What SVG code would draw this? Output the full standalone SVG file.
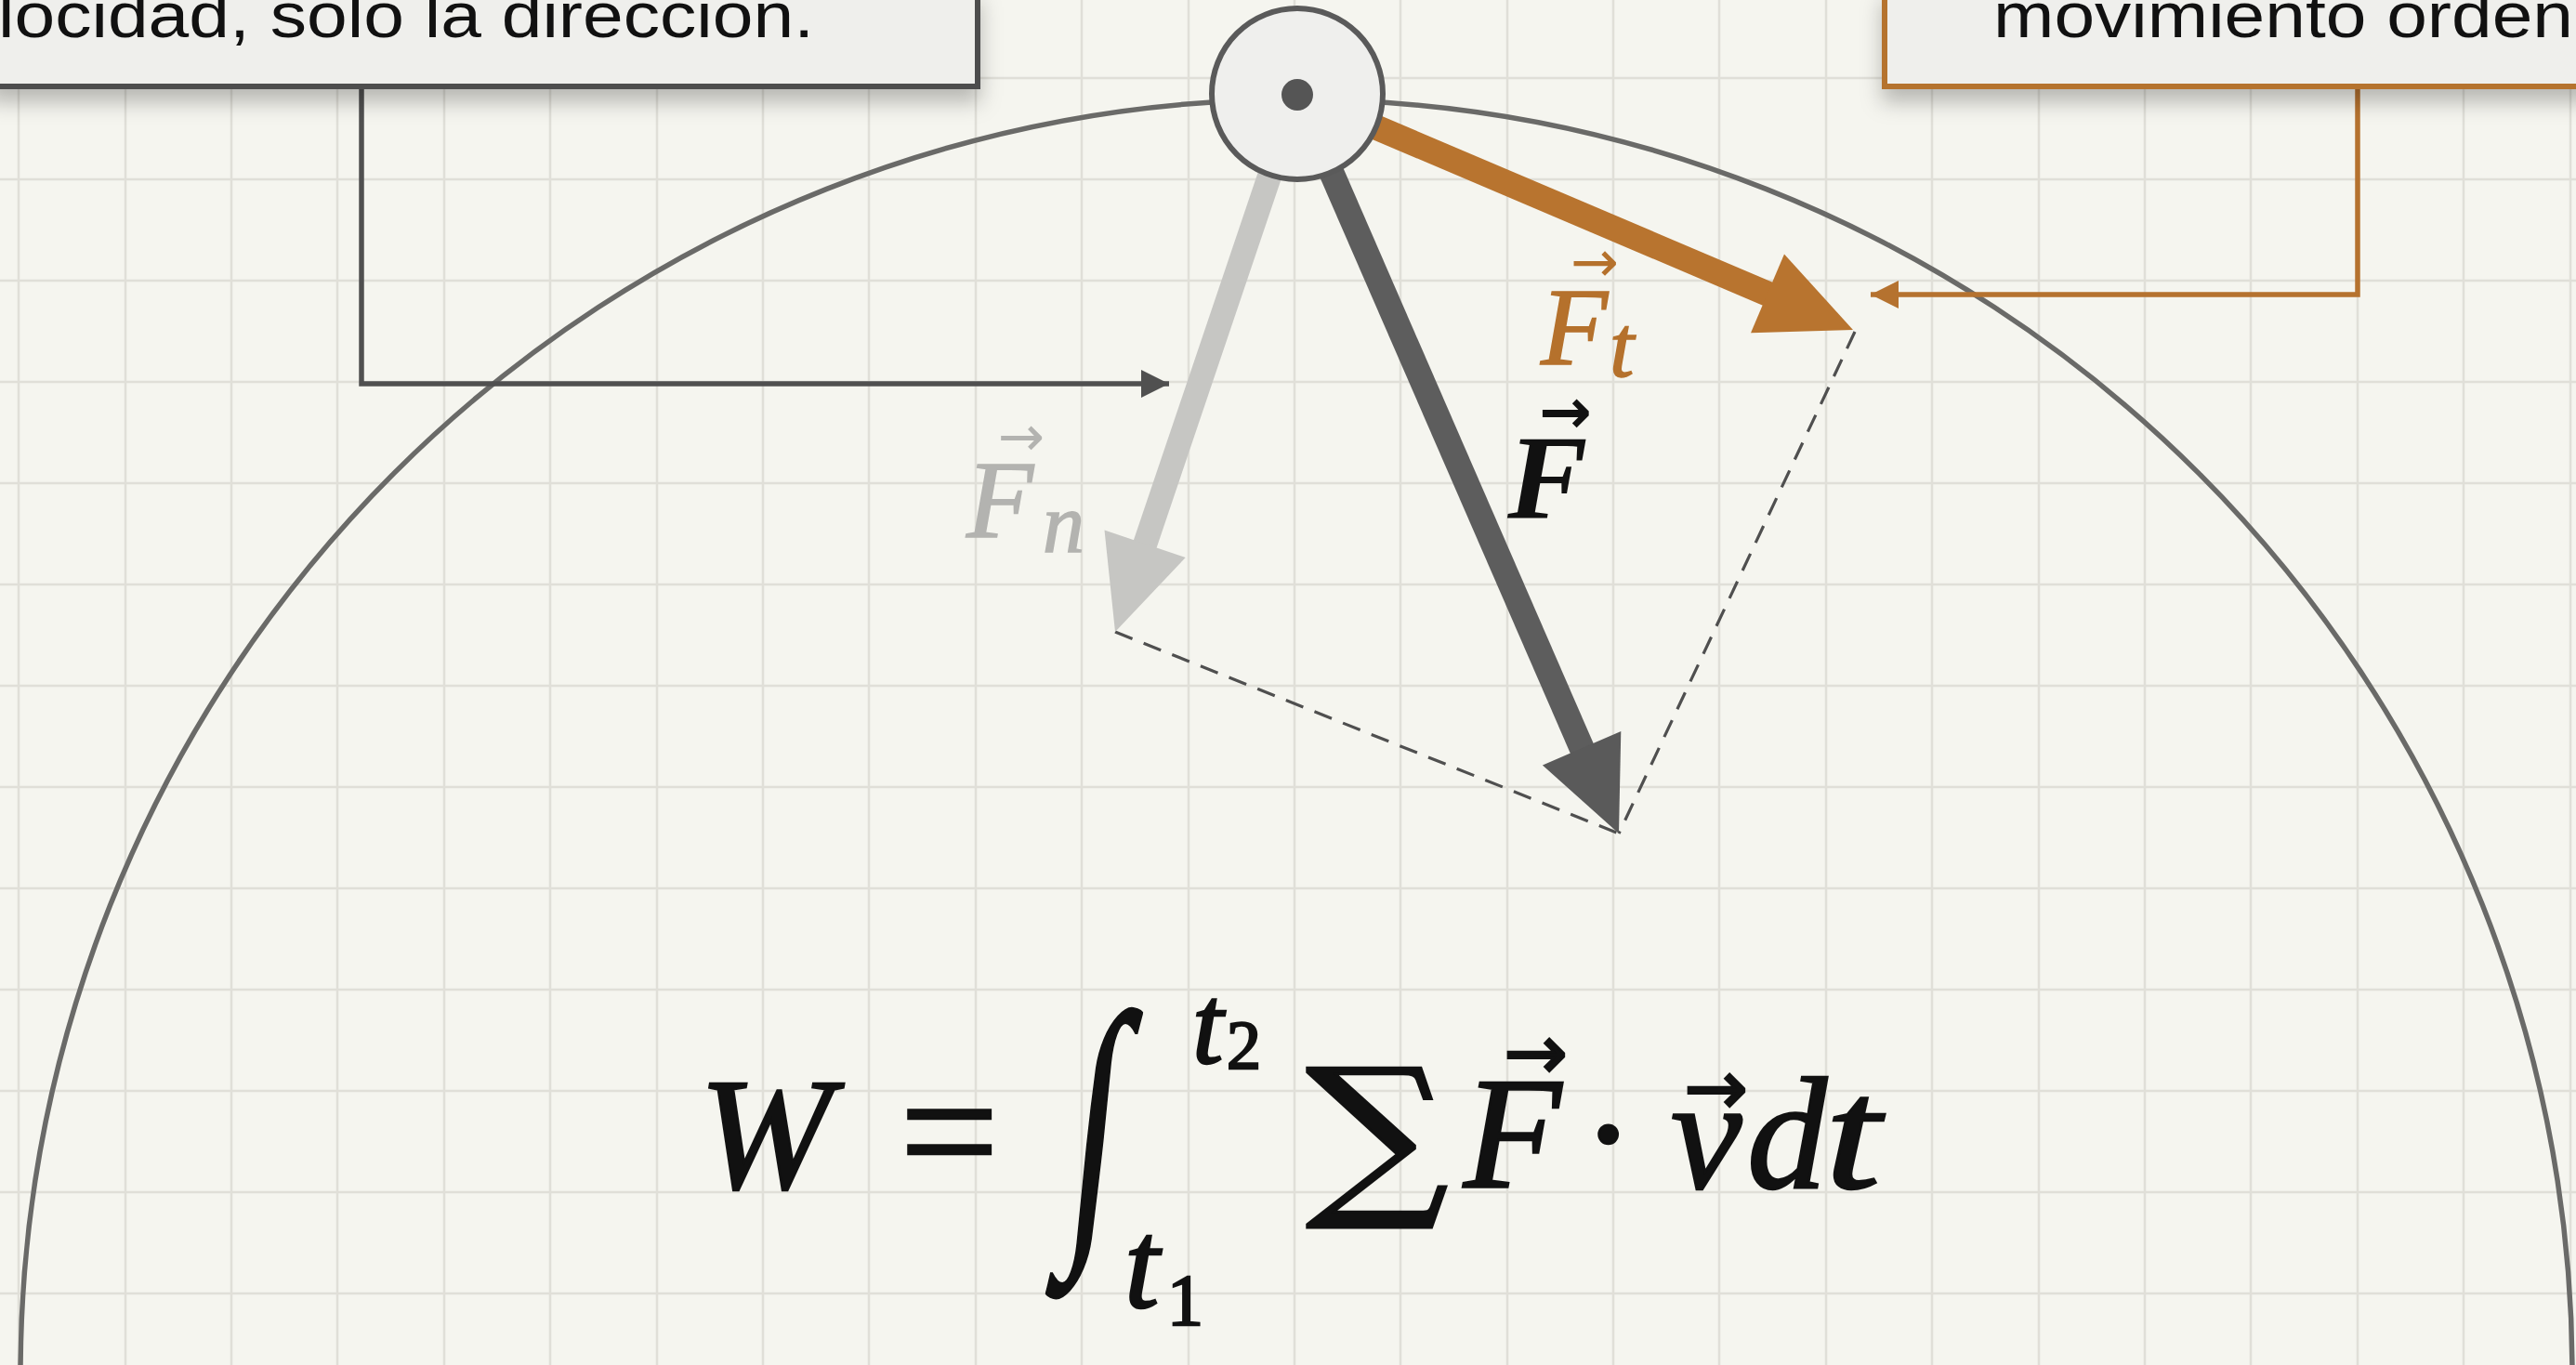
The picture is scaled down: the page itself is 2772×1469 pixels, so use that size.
<svg xmlns="http://www.w3.org/2000/svg" width="2772" height="1469" viewBox="0 0 2772 1469">
<defs>
<style>
.grid{stroke:#e0dfd8;stroke-width:2.5;fill:none}
.arc{fill:none;stroke:#6a6a68;stroke-width:5.5}
.dash{fill:none;stroke:#4f4f4f;stroke-width:3.2;stroke-dasharray:20 13}
.conn-dark{fill:none;stroke:#505050;stroke-width:5.5}
.conn-orange{fill:none;stroke:#b5722f;stroke-width:5.5}
.box{fill:#efefec;stroke-width:6}
.btxt{font-family:"Liberation Sans",Arial,sans-serif;font-size:68px;fill:#111}
.mi{font-family:"Liberation Serif","DejaVu Serif",serif;font-style:italic}
.mr{font-family:"Liberation Serif","DejaVu Serif",serif}
.arr{font-family:"DejaVu Sans",sans-serif}
.sym{font-family:"DejaVu Serif",serif}
.fx text{stroke:#111;stroke-width:2.5}
</style>
<filter id="shadow" x="-10%" y="-50%" width="120%" height="220%">
<feDropShadow dx="0" dy="14" stdDeviation="11" flood-color="#000" flood-opacity="0.25"/>
</filter>
<marker id="arrowDark" viewBox="0 0 10 10" refX="10" refY="5" markerUnits="userSpaceOnUse" markerWidth="32" markerHeight="30" orient="auto">
<path d="M0,0 L10,5 L0,10 z" fill="#505050"/>
</marker>
<marker id="arrowOrange" viewBox="0 0 10 10" refX="10" refY="5" markerUnits="userSpaceOnUse" markerWidth="30" markerHeight="30" orient="auto">
<path d="M0,0 L10,5 L0,10 z" fill="#b5722f"/>
</marker>
</defs>

<rect x="0" y="0" width="2772" height="1469" fill="#f5f5ef"/>

<g id="grid">
<path class="grid" d="M20,0V1469 M135,0V1469 M249,0V1469 M363,0V1469 M478,0V1469 M592,0V1469 M707,0V1469 M821,0V1469 M935,0V1469 M1050,0V1469 M1164,0V1469 M1279,0V1469 M1393,0V1469 M1507,0V1469 M1622,0V1469 M1736,0V1469 M1850,0V1469 M1965,0V1469 M2079,0V1469 M2194,0V1469 M2308,0V1469 M2422,0V1469 M2537,0V1469 M2651,0V1469 M2766,0V1469
M0,84H2772 M0,193H2772 M0,302H2772 M0,411H2772 M0,520H2772 M0,629H2772 M0,738H2772 M0,847H2772 M0,956H2772 M0,1065H2772 M0,1174H2772 M0,1283H2772 M0,1392H2772"/>
</g>

<g id="trajectory">
<circle class="arc" cx="1395" cy="1480" r="1373"/>
</g>

<g id="construction">
<path class="dash" d="M1996,357 L1742,897"/>
<path class="dash" d="M1200,680 L1742,897"/>
</g>

<g id="vector-Fn">
<path d="M1396,101 L1229,595" stroke="#c6c6c3" stroke-width="26" fill="none"/>
<polygon points="1200,680 1188.5,570.6 1275.7,600" fill="#c6c6c3"/>
</g>

<g id="vector-F">
<path d="M1396,101 L1706,814" stroke="#5d5d5d" stroke-width="27" fill="none"/>
<polygon points="1742,897 1659.9,823.6 1744.3,787" fill="#5a5a5a"/>
</g>

<g id="vector-Ft">
<path d="M1396,101 L1911,320" stroke="#b8742f" stroke-width="27" fill="none"/>
<polygon points="1994,355 1884,358.2 1920,273.6" fill="#b8742f"/>
</g>

<g id="pivot">
<circle cx="1396" cy="101" r="92" fill="#efefed" stroke="#5a5a5a" stroke-width="6"/>
<circle cx="1396" cy="102" r="17" fill="#555"/>
</g>

<g id="label-Ft" fill="#b5712c" stroke="#b5712c" stroke-width="1.5">
<text class="arr" x="1690" y="303" font-size="62" stroke-width="0">→</text>
<text class="mi" x="1658" y="392" font-size="118">F</text>
<text class="mi" x="1732" y="405" font-size="95">t</text>
</g>

<g id="label-F" fill="#111">
<text class="arr" x="1656" y="466" font-size="68" font-weight="bold">→</text>
<text class="mi" x="1622" y="557" font-size="130" font-weight="bold">F</text>
</g>

<g id="label-Fn" fill="#b3b3b0" stroke="#b3b3b0" stroke-width="1.5">
<text class="arr" x="1074" y="490" font-size="60" stroke-width="0">→</text>
<text class="mi" x="1040" y="578" font-size="118">F</text>
<text class="mi" x="1122" y="594" font-size="90">n</text>
</g>

<g id="connectors">
<path class="conn-dark" d="M389,95 V413 H1258" marker-end="url(#arrowDark)"/>
<path class="conn-orange" d="M2537,95 V317 H2013" marker-end="url(#arrowOrange)"/>
</g>

<g id="box-left">
<rect class="box" x="-10" y="-10" width="1062" height="103" stroke="#4d4d4d" filter="url(#shadow)"/>
<text class="btxt" x="-2" y="40" textLength="878" lengthAdjust="spacingAndGlyphs">locidad, solo la dirección.</text>
</g>

<g id="box-right">
<rect class="box" x="2028" y="-10" width="760" height="103" stroke="#b5732f" filter="url(#shadow)"/>
<text class="btxt" x="2145" y="40" textLength="624" lengthAdjust="spacingAndGlyphs">movimiento orden</text>
</g>

<g id="formula" class="fx" fill="#111">
<text class="mi" x="752" y="1278" font-size="172">W</text>
<text class="mr" x="968" y="1282" font-size="190">=</text>
<text class="mr" transform="translate(1144,1312) skewX(-6) scale(0.6,1)" x="0" y="0" font-size="318" stroke-width="1.5">∫</text>
<text class="mi" x="1283" y="1144" font-size="120">t</text>
<text class="mr" x="1320" y="1150" font-size="74">2</text>
<text class="mi" x="1210" y="1407" font-size="135">t</text>
<text class="mr" x="1256" y="1425" font-size="78">1</text>
<text class="sym" transform="translate(1405,1285) scale(1.14,1)" x="0" y="0" font-size="189" stroke-width="0">∑</text>
<text class="arr" x="1618" y="1161" font-size="82" stroke-width="0">→</text>
<text class="mi" x="1575" y="1278" font-size="172">F</text>
<text class="mr" x="1702" y="1278" font-size="172">·</text>
<text class="arr" x="1812" y="1199" font-size="82" stroke-width="0">→</text>
<text class="mi" x="1798" y="1278" font-size="172">v</text>
<text class="mi" x="1880" y="1278" font-size="172">d</text>
<text class="mi" transform="translate(1964,1278) scale(1.25,1)" x="0" y="0" font-size="172">t</text>
</g>
</svg>
